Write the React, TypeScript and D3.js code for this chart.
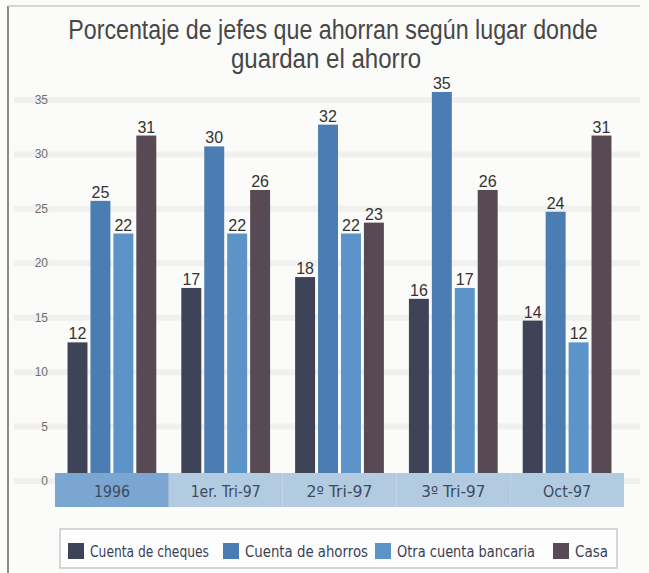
import React, { useEffect, useRef } from 'react';
import * as d3 from 'd3';

const categories = ['1996', '1er. Tri-97', '2º Tri-97', '3º Tri-97', 'Oct-97'];
const seriesNames = ['Cuenta de cheques', 'Cuenta de ahorros', 'Otra cuenta bancaria', 'Casa'];
const cheques = [12, 17, 18, 16, 14];
const ahorros = [25, 30, 32, 35, 24];
const otraCuenta = [22, 22, 22, 17, 12];
const casa = [31, 26, 23, 26, 31];
const yTicks = [0, 5, 10, 15, 20, 25, 30, 35];

const colors = ['#3e4358', '#4b7db3', '#5c93c9', '#584a54'];

const W = 649;
const H = 573;

function App() {
  const ref = useRef<SVGSVGElement>(null);

  useEffect(() => {
    const svg = d3.select(ref.current);
    svg.selectAll('*').remove();

    const series = [cheques, ahorros, otraCuenta, casa];
    const rows = categories.map((c, i) => ({ cat: c, values: series.map(s => s[i]) }));

    const x0 = d3.scaleBand().domain(categories).range([55, 624]).paddingInner(0.22).paddingOuter(0.11);
    const x1 = d3.scaleBand().domain(seriesNames).range([0, x0.bandwidth()]).paddingInner(0.13);
    const y = d3.scaleLinear().domain([0, 35]).range([473, 92]);

    svg.append('rect').attr('width', W).attr('height', H).attr('fill', '#fbfbfa');

    // faint ghost stripes from the scan
    svg.append('g')
      .selectAll('line')
      .data(yTicks)
      .enter()
      .append('line')
      .attr('x1', 14).attr('x2', 640)
      .attr('y1', d => y(d) + 8).attr('y2', d => y(d) + 8)
      .attr('stroke', '#f0f0ef')
      .attr('stroke-width', 6);

    // frame lines
    svg.append('line').attr('x1', 8).attr('x2', 8).attr('y1', 6).attr('y2', H)
      .attr('stroke', '#8a8a8a').attr('stroke-width', 2);
    svg.append('line').attr('x1', 8).attr('x2', 640).attr('y1', 6).attr('y2', 6)
      .attr('stroke', '#c8c8c8').attr('stroke-width', 1.5);

    // title (condensed by scaling, no narrow font installed)
    const title = svg.append('g')
      .attr('font-family', '"Liberation Sans", Arial, sans-serif')
      .attr('fill', '#474747')
      .attr('font-size', 28)
      .attr('text-anchor', 'middle');
    title.append('text')
      .attr('transform', 'translate(333, 39) scale(0.83, 1)')
      .text('Porcentaje de jefes que ahorran según lugar donde');
    title.append('text')
      .attr('transform', 'translate(326, 68) scale(0.86, 1)')
      .text('guardan el ahorro');

    // y tick labels
    svg.append('g')
      .selectAll('text')
      .data(yTicks)
      .enter()
      .append('text')
      .attr('x', 48)
      .attr('y', d => y(d) + 12)
      .attr('text-anchor', 'end')
      .attr('font-family', '"Liberation Sans", Arial, sans-serif')
      .attr('font-size', 12)
      .attr('fill', '#707070')
      .text(d => d);

    // category band under the bars
    const band = svg.append('g');
    band.selectAll('rect')
      .data(categories)
      .enter()
      .append('rect')
      .attr('x', d => (x0(d) as number) - x0.step() * x0.paddingOuter())
      .attr('y', 473)
      .attr('width', x0.step())
      .attr('height', 34)
      .attr('fill', (d, i) => (i === 0 ? '#7aa6d1' : '#b3cbe0'));
    band.selectAll('text')
      .data(categories)
      .enter()
      .append('text')
      .attr('x', d => (x0(d) as number) + x0.bandwidth() / 2)
      .attr('y', 497)
      .attr('text-anchor', 'middle')
      .attr('font-family', '"DejaVu Sans", sans-serif')
      .attr('font-size', 15)
      .attr('fill', '#3c4a5e')
      .attr('textLength', (d, i) => [36, 70, 66, 64, 48][i])
      .attr('lengthAdjust', 'spacingAndGlyphs')
      .text(d => d);

    // bars
    const groups = svg.append('g')
      .selectAll('g')
      .data(rows)
      .enter()
      .append('g')
      .attr('transform', d => `translate(${x0(d.cat)}, 0)`);

    const cells = groups.selectAll('g')
      .data(d => d.values.map((v, k) => ({ key: seriesNames[k], v, k })))
      .enter()
      .append('g');

    cells.append('rect')
      .attr('x', d => x1(d.key) as number)
      .attr('y', d => y(d.v))
      .attr('width', x1.bandwidth())
      .attr('height', d => y(0) - y(d.v))
      .attr('fill', d => colors[d.k]);

    cells.append('text')
      .attr('x', d => (x1(d.key) as number) + x1.bandwidth() / 2)
      .attr('y', d => y(d.v) - 3)
      .attr('text-anchor', 'middle')
      .attr('font-family', '"Liberation Sans", Arial, sans-serif')
      .attr('font-size', 16)
      .attr('fill', '#333')
      .text(d => d.v);

    // legend
    const legend = svg.append('g');
    legend.append('rect')
      .attr('x', 60).attr('y', 529).attr('width', 557).attr('height', 39)
      .attr('fill', '#fdfdfd').attr('stroke', '#bdbdbd').attr('stroke-width', 1.2);

    const legendX = [68, 223, 375, 553];
    const legendW = [121, 125, 140, 35];
    const items = legend.selectAll('g.item')
      .data(seriesNames)
      .enter()
      .append('g')
      .attr('class', 'item')
      .attr('transform', (d, i) => `translate(${legendX[i]}, 543)`);
    items.append('rect')
      .attr('width', 16).attr('height', 16)
      .attr('fill', (d, i) => colors[i]);
    items.append('text')
      .attr('x', 22).attr('y', 14)
      .attr('font-family', '"DejaVu Sans", sans-serif')
      .attr('font-size', 16)
      .attr('fill', '#3a3f55')
      .attr('textLength', (d, i) => legendW[i] - 2)
      .attr('lengthAdjust', 'spacingAndGlyphs')
      .text(d => d);
  }, []);

  return (
    <svg ref={ref} width={W} height={H} style={{ position: 'absolute', left: 0, top: 0 }} />
  );
}

export default App;
